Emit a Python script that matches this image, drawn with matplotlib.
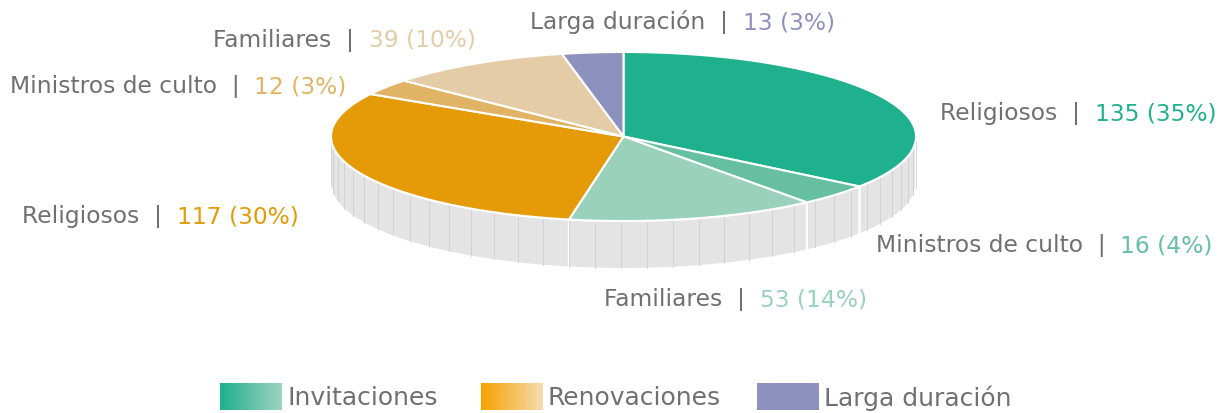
import numpy as np
import matplotlib.pyplot as plt
from matplotlib.patches import Polygon

# data
groups = ['Invitaciones', 'Renovaciones', 'Larga duración']
slice_names = ['Religiosos', 'Ministros de culto', 'Familiares',
               'Religiosos', 'Ministros de culto', 'Familiares',
               'Larga duración']
slice_values = [135, 16, 53, 117, 12, 39, 13]
slice_colors = ['#1fb08d', '#66bfa1', '#99d1bb',
                '#e59b08', '#e0b464', '#e3cca6',
                '#8d91be']
legend_grads = [('#1fb08d', '#9dd3bf'), ('#f5a300', '#f5dcae'), ('#8d91be', '#8d91be')]

# layout (pixel coords)
W, H = 1219, 414
cx, cy, rx, ry, depth = 623.5, 137.5, 292.5, 84.5, 48
label_pos = [(940, 114), (876, 246), (604, 300), (22, 217), (10, 87), (213, 40), (530, 22)]
legend_pos = [(220, 288), (481, 548), (757, 824)]
TEXT = '#707070'
FONT = 'DejaVu Sans'
FS = 16.8
LFS = 18

fig = plt.figure(figsize=(W / 100, H / 100), dpi=100)
ax = fig.add_axes([0, 0, 1, 1])
ax.set_xlim(0, W)
ax.set_ylim(H, 0)
ax.axis('off')


def pt(theta, dy=0.0):
    return cx + rx * np.sin(theta), cy - ry * np.cos(theta) + dy


total = sum(slice_values)
bounds = np.concatenate([[0], np.cumsum(slice_values)]) / total * 2 * np.pi

# side walls (front half only)
for a0, a1 in zip(bounds[:-1], bounds[1:]):
    s0, s1 = max(a0, np.pi / 2), min(a1, 3 * np.pi / 2)
    if s1 <= s0:
        continue
    th = np.linspace(s0, s1, 100)
    xt, yt = pt(th)
    xb, yb = pt(th, depth)
    verts = np.column_stack([np.concatenate([xt, xb[::-1]]), np.concatenate([yt, yb[::-1]])])
    ax.add_patch(Polygon(verts, closed=True, fc='#e4e4e4', ec='white', lw=1.5, zorder=1))
    for t in np.arange(np.ceil(s0 / 0.09) * 0.09, s1, 0.09):
        x0, y0 = pt(t)
        ax.plot([x0, x0], [y0 + 1, y0 + depth - 1], color='#d2d2d2', lw=0.7, zorder=1.5)

# tops
for a0, a1, c in zip(bounds[:-1], bounds[1:], slice_colors):
    th = np.linspace(a0, a1, 120)
    xs, ys = pt(th)
    verts = np.column_stack([np.concatenate([[cx], xs]), np.concatenate([[cy], ys])])
    ax.add_patch(Polygon(verts, closed=True, fc=c, ec='white', lw=1.5, zorder=2))

# labels
for (x, y), name, v, c in zip(label_pos, slice_names, slice_values, slice_colors):
    t1 = ax.text(x, y, name + '  |  ', fontsize=FS, family=FONT, color=TEXT,
                 va='center', ha='left', zorder=5)
    ax.annotate('%d (%d%%)' % (v, round(v / total * 100)), xy=(1, 0), xycoords=t1,
                va='bottom', ha='left', fontsize=FS, family=FONT, color=c, zorder=5)

# legend
for (bx, tx), g, (c0, c1) in zip(legend_pos, groups, legend_grads):
    grad = np.linspace(0, 1, 64)[None, :, None]
    rgb0 = np.array(plt.matplotlib.colors.to_rgb(c0))
    rgb1 = np.array(plt.matplotlib.colors.to_rgb(c1))
    img = rgb0 * (1 - grad) + rgb1 * grad
    ax.imshow(img, extent=(bx, bx + 62, 411, 384), aspect='auto', zorder=3)
    ax.text(tx, 398, g, fontsize=LFS, family=FONT, color=TEXT, va='center', ha='left')

ax.set_xlim(0, W)
ax.set_ylim(H, 0)
fig.savefig('out.png', dpi=100)
